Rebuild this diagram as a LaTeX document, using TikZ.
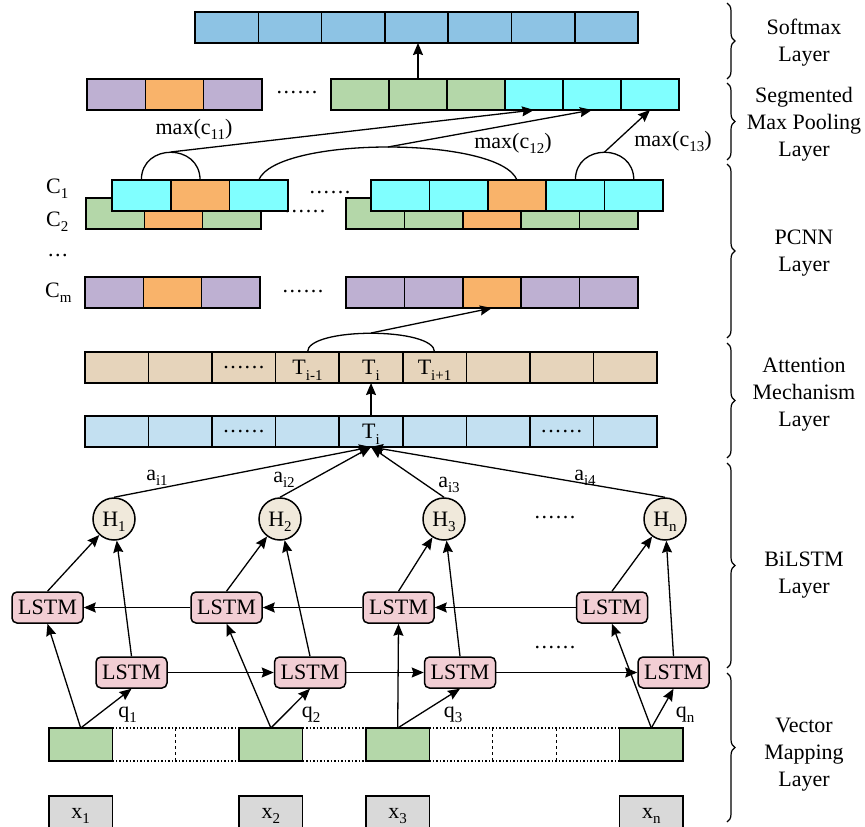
\documentclass[tikz,border=0pt]{standalone}
\usepackage{fontspec}
\setmainfont{Liberation Serif}
\usetikzlibrary{arrows.meta,decorations.pathreplacing,calc}
\definecolor{smblue}{HTML}{8DC3E4}
\definecolor{plum}{HTML}{BEB0D2}
\definecolor{orng}{HTML}{F9B36A}
\definecolor{grn}{HTML}{B4D7A9}
\definecolor{cyn}{HTML}{80FFFF}
\definecolor{tanc}{HTML}{E6D4BB}
\definecolor{lblue}{HTML}{C3E0F1}
\definecolor{lpink}{HTML}{F2CED4}
\definecolor{hfill}{HTML}{F0E9DB}
\definecolor{xgray}{HTML}{D9D9D9}
\newcommand{\sbs}[1]{\raisebox{-0.25em}{\fontsize{15}{15}\selectfont #1}}
\newcommand{\sixdots}{.\kern1.6pt.\kern1.6pt.\kern1.6pt.\kern1.6pt.\kern1.6pt.}
\begin{document}
\begin{tikzpicture}[x=1pt,y=-1pt,font=\fontsize{22}{27}\selectfont,
  cell/.style={draw, line width=1.6pt, minimum height=31pt, inner sep=0pt, outer sep=0pt, anchor=north west},
  vcell/.style={minimum height=33pt, minimum width=63.4pt, inner sep=0pt, outer sep=0pt, anchor=north west},
  gcell/.style={cell, fill=grn, minimum height=33pt, minimum width=63.4pt},
  xcell/.style={cell, fill=xgray, minimum height=40pt, minimum width=63.4pt},
  lstm/.style={draw, line width=1.5pt, rounded corners=5pt, fill=lpink, minimum width=71pt, minimum height=31pt, inner sep=0pt, text height=14.6pt, text depth=0pt},
  hnode/.style={draw, circle, line width=1.5pt, fill=hfill, minimum size=42pt, inner sep=0pt, text height=14.6pt, text depth=0pt},
  arr/.style={-{Stealth[length=12pt,width=10pt,inset=1.5pt]}, line width=1.3pt},
  arcline/.style={line width=1.3pt},
  dotline/.style={line width=1.5pt, dotted},
  dashline/.style={line width=1.3pt, dashed},
  bracestyle/.style={decorate, decoration={brace, amplitude=8pt}, line width=1.2pt},
  layer/.style={align=center}]
\useasboundingbox (0,0) rectangle (865,827);
\clip (0,0) rectangle (865,827);

% ---------- Softmax row
\foreach \i in {1,...,7}
  \node[cell, fill=smblue, minimum width=63.3pt] (s\i) at ({195+(\i-1)*63.3},12) {};

% ---------- Segmented max pooling row
\foreach \c [count=\i] in {plum,orng,plum}
  \node[cell, fill=\c, minimum width=58.3pt] (pl\i) at ({87+(\i-1)*58.3},79) {};
\foreach \c [count=\i] in {grn,grn,grn,cyn,cyn,cyn}
  \node[cell, fill=\c, minimum width=58pt] (pr\i) at ({331+(\i-1)*58},79) {};
\node (pdots) at (297,93) {\sixdots};
\draw[arr] (pr2.north) -- (pr2.north |- s4.south);

% ---------- PCNN rows
\foreach \c [count=\i] in {grn,orng,grn}
  \node[cell, fill=\c, minimum width=58.3pt] (c2l\i) at ({86+(\i-1)*58.3},198) {};
\foreach \c [count=\i] in {grn,grn,orng,grn,grn}
  \node[cell, fill=\c, minimum width=58.4pt] (c2r\i) at ({346+(\i-1)*58.4},198) {};
\node (c2dots) at (305,212) {\sixdots};
\foreach \c [count=\i] in {cyn,orng,cyn}
  \node[cell, fill=\c, minimum width=58.7pt] (c1l\i) at ({112+(\i-1)*58.7},180) {};
\foreach \c [count=\i] in {cyn,cyn,orng,cyn,cyn}
  \node[cell, fill=\c, minimum width=58.4pt] (c1r\i) at ({371+(\i-1)*58.4},180) {};
\node (c1dots) at (330,193) {\sixdots};
\foreach \c [count=\i] in {plum,orng,plum}
  \node[cell, fill=\c, minimum width=58.3pt] (cml\i) at ({85+(\i-1)*58.3},277) {};
\foreach \c [count=\i] in {plum,plum,orng,plum,plum}
  \node[cell, fill=\c, minimum width=58.4pt] (cmr\i) at ({346+(\i-1)*58.4},277) {};
\node (cmdots) at (303,292) {\sixdots};

\node[anchor=base west, inner sep=0pt] (lc1) at (46,193) {C\sbs{1}};
\node[anchor=base west, inner sep=0pt] (lc2) at (46,226) {C\sbs{2}};
\node[anchor=base west, inner sep=0pt] (lcd) at (48,256) {.\kern1.5pt.\kern1.5pt.};
\node[anchor=base west, inner sep=0pt] (lcm) at (45,297) {C\sbs{m}};

% pooling arcs and arrows
\draw[arcline] (c1l1.north) .. controls +(0,-37) and +(0,-37) .. (c1l2.north);
\coordinate (pk1) at ($(c1l1.north)!0.5!(c1l2.north)+(0,-28)$);
\draw[arcline] (c1l3.north) .. controls +(18,-44) and +(-18,-44) .. (c1r3.north);
\coordinate (pk2) at ($(c1l3.north)!0.5!(c1r3.north)+(0,-33)$);
\draw[arcline] (c1r4.north) .. controls +(0,-37) and +(0,-37) .. (c1r5.north);
\coordinate (pk3) at ($(c1r4.north)!0.5!(c1r5.north)+(0,-28)$);
\draw[arr] (pk1) -- (pr4.south);
\draw[arr] (pk2) -- (pr5.south);
\draw[arr] (pk3) -- (pr6.south);
\node[anchor=base] (m1) at (194,134) {max(c\sbs{11})};
\node[anchor=base] (m2) at (513,148) {max(c\sbs{12})};
\node[anchor=base] (m3) at (673,146) {max(c\sbs{13})};

% ---------- Attention rows
\foreach \i in {1,...,9}
  \node[cell, fill=tanc, minimum width=63.56pt] (tn\i) at ({85+(\i-1)*63.56},352) {};
\foreach \i in {1,...,9}
  \node[cell, fill=lblue, minimum width=63.56pt] (bl\i) at ({85+(\i-1)*63.56},416) {};
\node (tdots) at (tn3) {\sixdots};
\node[anchor=base] (tt4) at ($(tn4.center)+(0,7.3)$) {T\sbs{i-1}};
\node[anchor=base] (tt5) at ($(tn5.center)+(0,7.3)$) {T\sbs{i}};
\node[anchor=base] (tt6) at ($(tn6.center)+(0,7.3)$) {T\sbs{i+1}};
\node (bdots1) at (bl3) {\sixdots};
\node (bdots2) at (bl8) {\sixdots};
\node[anchor=base] (bt5) at ($(bl5.center)+(0,7.3)$) {T\sbs{i}};

\draw[arcline] (tn4.north) .. controls +(0,-25) and +(0,-25) .. (tn6.north);
\coordinate (pk4) at ($(tn4.north)!0.5!(tn6.north)+(0,-19)$);
\draw[arr] (pk4) -- (cmr3.south);
\draw[arr] (bl5.north) -- (tn5.south);

% ---------- BiLSTM
\node[hnode] (h1) at (114,519) {H\sbs{1}};
\node[hnode] (h2) at (280,519) {H\sbs{2}};
\node[hnode] (h3) at (444,519) {H\sbs{3}};
\node[hnode] (hn) at (665,519) {H\sbs{n}};
\node (hdots) at (555,518) {\sixdots};

\node[lstm] (bk1) at (47.5,607.5) {LSTM};
\node[lstm] (bk2) at (226.5,607.5) {LSTM};
\node[lstm] (bk3) at (398.5,607.5) {LSTM};
\node[lstm] (bkn) at (612,607.5) {LSTM};
\node[lstm] (fw1) at (131.5,672.5) {LSTM};
\node[lstm] (fw2) at (310,672.5) {LSTM};
\node[lstm] (fw3) at (460,672.5) {LSTM};
\node[lstm] (fwn) at (673.5,672.5) {LSTM};
\node (fdots) at (555,648) {\sixdots};

\draw[arr] (bkn.west) -- (bk3.east);
\draw[arr] (bk3.west) -- (bk2.east);
\draw[arr] (bk2.west) -- (bk1.east);
\draw[arr] (fw1.east) -- (fw2.west);
\draw[arr] (fw2.east) -- (fw3.west);
\draw[arr] (fw3.east) -- (fwn.west);

\draw[arr] (bk1.north) -- (h1);
\draw[arr] (fw1.north) -- (h1);
\draw[arr] (bk2.north) -- (h2);
\draw[arr] (fw2.north) -- (h2);
\draw[arr] (bk3.north) -- (h3);
\draw[arr] (fw3.north) -- (h3);
\draw[arr] (bkn.north) -- (hn);
\draw[arr] (fwn.north) -- (hn);

\draw[arr] (h1.north) -- (bl5.south);
\draw[arr] (h2.north) -- (bl5.south);
\draw[arr] (h3.north) -- (bl5.south);
\draw[arr] (hn.north) -- (bl5.south);
\node[anchor=base] (a1) at (157,480) {a\sbs{i1}};
\node[anchor=base] (a2) at (284,482) {a\sbs{i2}};
\node[anchor=base] (a3) at (449,487) {a\sbs{i3}};
\node[anchor=base] (a4) at (585,480) {a\sbs{i4}};

% ---------- Vector mapping row
\foreach \i in {1,...,10}
  \node[vcell] (v\i) at ({49+(\i-1)*63.4},728) {};
\draw[dotline] (v2.north west) -- (v3.north east);
\draw[dotline] (v2.south west) -- (v3.south east);
\draw[dotline] (v5.north west) -- (v5.north east);
\draw[dotline] (v5.south west) -- (v5.south east);
\draw[dotline] (v7.north west) -- (v9.north east);
\draw[dotline] (v7.south west) -- (v9.south east);
\draw[dashline] (v2.north east) -- (v2.south east);
\draw[dashline] (v7.north east) -- (v7.south east);
\draw[dashline] (v8.north east) -- (v8.south east);
\node[gcell] (g1) at (v1.north west) {};
\node[gcell] (g2) at (v4.north west) {};
\node[gcell] (g3) at (v6.north west) {};
\node[gcell] (g4) at (v10.north west) {};

\draw[arr] (g1.north) -- (bk1.south);
\draw[arr] (g1.north) -- (fw1.south);
\draw[arr] (g2.north) -- (bk2.south);
\draw[arr] (g2.north) -- (fw2.south);
\draw[arr] (g3.north) -- (bk3.south);
\draw[arr] (g3.north) -- (fw3.south);
\draw[arr] (g4.north) -- (bkn.south);
\draw[arr] (g4.north) -- (fwn.south);
\node[anchor=base] (q1) at (127.5,717) {q\sbs{1}};
\node[anchor=base] (q2) at (311,717) {q\sbs{2}};
\node[anchor=base] (q3) at (453,717) {q\sbs{3}};
\node[anchor=base] (qn) at (685,717) {q\sbs{n}};

\node[xcell] (x1) at (49,796) {};
\node[xcell] (x2) at (239.2,796) {};
\node[xcell] (x3) at (366,796) {};
\node[xcell] (xn) at (619.6,796) {};
\node[anchor=base, inner sep=0pt] (xl1) at ($(x1.north)+(0,22)$) {x\sbs{1}};
\node[anchor=base, inner sep=0pt] (xl2) at ($(x2.north)+(0,22)$) {x\sbs{2}};
\node[anchor=base, inner sep=0pt] (xl3) at ($(x3.north)+(0,22)$) {x\sbs{3}};
\node[anchor=base, inner sep=0pt] (xln) at ($(xn.north)+(0,22)$) {x\sbs{n}};

% ---------- Braces and layer labels
\draw[bracestyle] (727,3) -- (727,79);
\draw[bracestyle] (727,83) -- (727,160);
\draw[bracestyle] (727,164) -- (727,338);
\draw[bracestyle] (727,343) -- (727,458);
\draw[bracestyle] (727,463) -- (727,668);
\draw[bracestyle] (727,673) -- (727,822);
\node[layer] (L1) at (804,43) {Softmax\\Layer};
\node[layer] (L2) at (804,124) {Segmented\\Max Pooling\\Layer};
\node[layer] (L3) at (804,253) {PCNN\\Layer};
\node[layer] (L4) at (804,395) {Attention\\Mechanism\\Layer};
\node[layer] (L5) at (804,575) {BiLSTM\\Layer};
\node[layer] (L6) at (804,755) {Vector\\Mapping\\Layer};
\end{tikzpicture}
\end{document}
